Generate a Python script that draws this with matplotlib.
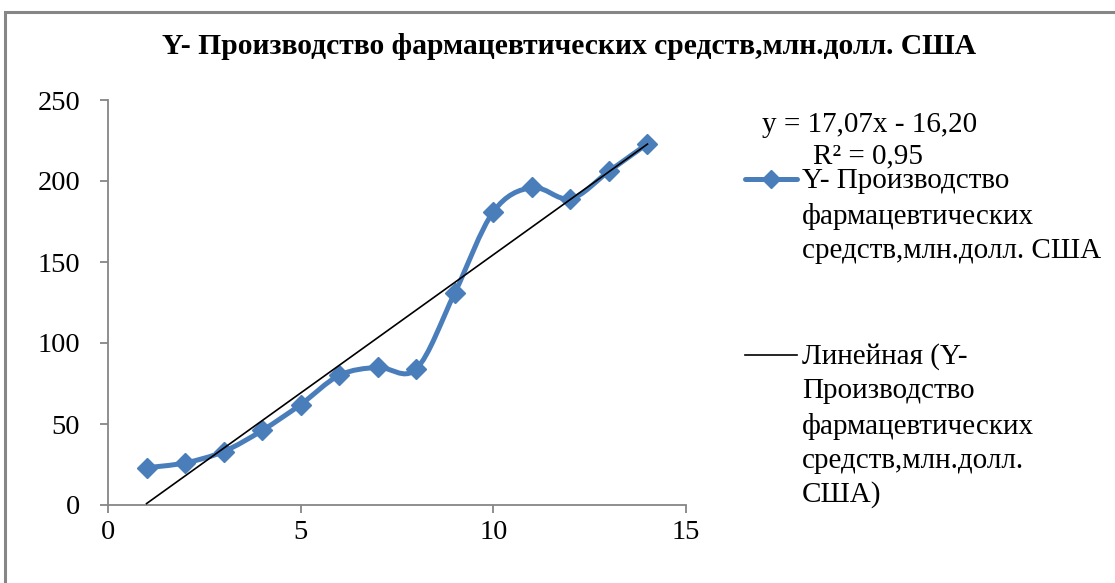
import numpy as np
import matplotlib
matplotlib.use("Agg")
import matplotlib.pyplot as plt
from matplotlib import font_manager
from matplotlib.path import Path
from matplotlib.patches import PathPatch, Rectangle
from matplotlib.lines import Line2D

# Data: production of pharmaceuticals, mln USD, by period
x_vals = [1, 2, 3, 4, 5, 6, 7, 8, 9, 10, 11, 12, 13, 14]
y_vals = [23, 26, 33, 46, 62, 80, 85, 84, 131, 181, 196, 189, 206, 223]

# Linear trend as reported on the chart
trend_slope = 17.07
trend_intercept = -16.20
r_squared = 0.95

title_text = "Y- Производство фармацевтических средств,млн.долл. США"
series_label = ["Y- Производство", "фармацевтических", "средств,млн.долл. США"]
trend_label = ["Линейная (Y-", "Производство", "фармацевтических", "средств,млн.долл.", "США)"]
x_ticks = [0, 5, 10, 15]
y_ticks = [0, 50, 100, 150, 200, 250]

BLUE = "#4a7ebb"
GRAY = "#868686"

# pick a Times-like serif face that is actually installed
installed = {f.name for f in font_manager.fontManager.ttflist}
serif_choice = [n for n in ("Liberation Serif", "Times New Roman", "Tinos",
                            "Noto Serif", "DejaVu Serif") if n in installed]
SERIF_NAME = serif_choice[0] if serif_choice else "DejaVu Serif"
plt.rcParams["font.family"] = "serif"
plt.rcParams["font.serif"] = [SERIF_NAME, "DejaVu Serif"]

W, H = 1115, 583
fig = plt.figure(figsize=(W / 100, H / 100), dpi=100)
fig.patch.set_facecolor("white")


def fx(px):
    return px / W


def fy(py):
    return 1 - py / H


def serif(size, weight="normal"):
    return font_manager.FontProperties(family=SERIF_NAME, size=size, weight=weight)


# chart-area frame
fig.add_artist(Rectangle((fx(5), fy(700)), fx(1200), fy(12) - fy(700),
                         transform=fig.transFigure, fill=False,
                         edgecolor=GRAY, linewidth=2.2))

ax = fig.add_axes([fx(108), fy(505), fx(686) - fx(108), fy(100) - fy(505)])
ax.set_xlim(0, 15)
ax.set_ylim(0, 250)
ax.set_xticks(x_ticks)
ax.set_yticks(y_ticks)
for s in ("top", "right"):
    ax.spines[s].set_visible(False)
for s in ("left", "bottom"):
    ax.spines[s].set_color(GRAY)
    ax.spines[s].set_linewidth(1.3)
ax.tick_params(direction="out", length=6, width=1.3, color=GRAY)
ax.tick_params(axis="y", pad=14)
ax.tick_params(axis="x", pad=5)
for lab in ax.get_xticklabels() + ax.get_yticklabels():
    lab.set_fontproperties(serif(20.5))
ax.patch.set_alpha(0)


# smoothed series: cubic Bezier segments through the points
def smooth_path(xs, ys):
    pts = np.column_stack([xs, ys]).astype(float)
    n = len(pts)
    verts = [pts[0]]
    codes = [Path.MOVETO]
    for i in range(n - 1):
        p0 = pts[i - 1] if i > 0 else pts[i]
        p1 = pts[i]
        p2 = pts[i + 1]
        p3 = pts[i + 2] if i + 2 < n else pts[i + 1]
        c1 = p1 + (p2 - p0) / 6.0
        c2 = p2 - (p3 - p1) / 6.0
        verts += [c1, c2, p2]
        codes += [Path.CURVE4] * 3
    return Path(verts, codes)


ax.add_patch(PathPatch(smooth_path(x_vals, y_vals), fill=False,
                       edgecolor=BLUE, linewidth=3.6, capstyle="round",
                       joinstyle="round", zorder=3))
ax.plot(x_vals, y_vals, linestyle="none", marker="D", markersize=10,
        color=BLUE, zorder=4, clip_on=False)

# trend line
tx = np.array([x_vals[0], x_vals[-1]], dtype=float)
ax.plot(tx, trend_slope * tx + trend_intercept, color="black",
        linewidth=1.2, zorder=5)

# title
fig.text(fx(569), fy(47), title_text, ha="center", va="center",
         fontproperties=serif(21.3, "bold"))

# trend equation
fig.text(fx(870), fy(125),
         "y = {:.2f}x - {:.2f}".format(trend_slope, -trend_intercept).replace(".", ","),
         ha="center", va="center", fontproperties=serif(21))
fig.text(fx(868), fy(156), "R² = {:.2f}".format(r_squared).replace(".", ","),
         ha="center", va="center", fontproperties=serif(21))

# legend
fig.add_artist(Line2D([fx(745), fx(797)], [fy(179), fy(179)],
                      transform=fig.transFigure, color=BLUE, linewidth=3.6,
                      solid_capstyle="round"))
fig.add_artist(Line2D([fx(771)], [fy(179)], transform=fig.transFigure,
                      color=BLUE, marker="D", markersize=9, linestyle="none"))
for i, line in enumerate(series_label):
    fig.text(fx(802), fy(181 + 35 * i), line, ha="left", va="center",
             fontproperties=serif(21))

fig.add_artist(Line2D([fx(745), fx(797)], [fy(355), fy(355)],
                      transform=fig.transFigure, color="black", linewidth=1.2))
for i, line in enumerate(trend_label):
    fig.text(fx(802), fy(357 + 34.5 * i), line, ha="left", va="center",
             fontproperties=serif(21))

fig.savefig("out.png", dpi=100, facecolor="white")
